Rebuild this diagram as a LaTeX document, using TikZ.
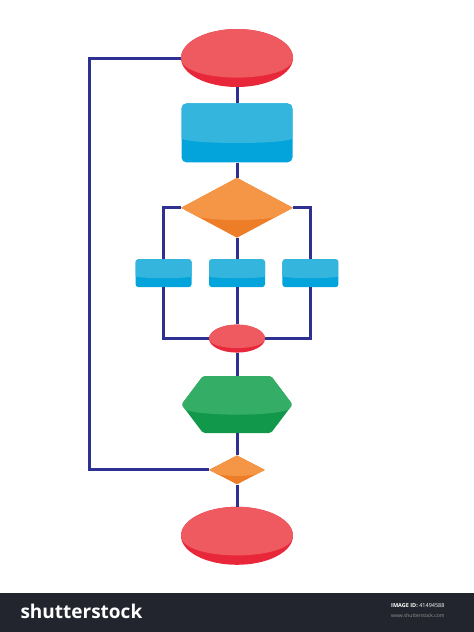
\documentclass[tikz,border=0pt]{standalone}
\usepackage{fontspec}
\setsansfont{Open Sans}
\usepackage{tikz}
\usetikzlibrary{positioning,calc,shapes.geometric,shapes.symbols}
\definecolor{redD}{HTML}{E8283A}
\definecolor{redL}{HTML}{EE5A60}
\definecolor{blueD}{HTML}{03A3DC}
\definecolor{blueL}{HTML}{34B5DE}
\definecolor{orangeD}{HTML}{EE7D28}
\definecolor{orangeL}{HTML}{F59646}
\definecolor{greenD}{HTML}{12984A}
\definecolor{greenL}{HTML}{34AE66}
\definecolor{lineC}{HTML}{2E3192}
\definecolor{barC}{HTML}{22252D}
\tikzset{gloss/.style 2 args={path picture={\fill[#1] (path picture bounding box.north west) -- (path picture bounding box.west)
		.. controls ($(path picture bounding box.west)!#2!(path picture bounding box.south west)$) and ($(path picture bounding box.east)!#2!(path picture bounding box.south east)$)
		.. (path picture bounding box.east) -- (path picture bounding box.north east) -- cycle;}},
	 roval/.style={ellipse,fill=redD,gloss={redL}{.9},inner sep=0pt,minimum width=112pt,minimum height=58pt},
	 sroval/.style={roval,minimum width=56pt,minimum height=28pt},
	 bbox/.style={rectangle,rounded corners=5pt,fill=blueD,gloss={blueL}{.4},inner sep=0pt,minimum width=111pt,minimum height=59pt},
	 sbbox/.style={bbox,rounded corners=3pt,minimum width=56pt,minimum height=28pt},
	 odia/.style={diamond,fill=orangeD,gloss={orangeL}{.55},inner sep=0pt,minimum width=112pt,minimum height=60pt},
	 sodia/.style={odia,minimum width=56pt,minimum height=29pt},
	 ghex/.style={signal,signal to=west and east,signal pointer angle=106,rounded corners=2pt,fill=greenD,gloss={greenL}{.45},inner sep=0pt,minimum width=111pt,minimum height=57pt},
	 flow/.style={draw=lineC,line width=3pt},
	 node distance = 17pt
	 }

\begin{document}
\begin{tikzpicture}[x=1pt,y=1pt] % flowchart with side loop
	\useasboundingbox (0,0) rectangle (474,-632);
	\node[roval] (a1) at (237,-58) {};
	\node[bbox] (a2) [below=16pt of a1] {};
	\node[odia] (a3) [below=15pt of a2] {};
	\node[sbbox] (a5) [below=21pt of a3] {};
	\node[sbbox] (a4) [left=of a5] {};
	\node[sbbox] (a6) [right=of a5] {};
	\node[sroval] (a7) [below=37pt of a5] {};
	\node[ghex] (a8) [below=23pt of a7] {};
	\node[sodia] (a9) [below=22pt of a8] {};
	\node[roval] (a10) [below=22pt of a9] {};
	\draw[flow] (a1) to (a2); \draw[flow] (a2) to (a3); \draw[flow] (a3) to (a5);
	\draw[flow] (a3.west) -| (a4.north); \draw[flow] (a3.east) -| (a6.north);
	\draw[flow] (a4.south) |- (a7.west); \draw[flow] (a6.south) |- (a7.east); \draw[flow] (a5) to (a7);
	\draw[flow] (a7) to (a8); \draw[flow] (a8) to (a9); \draw[flow] (a9) to (a10);
	\draw[flow] (a9.west) -| ([xshift=-91pt]a1.west) -- (a1.west);
	% bottom bar
	\fill[barC] (0,-593) rectangle (474,-632);
	\node[anchor=west,text=white,font=\sffamily\bfseries\fontsize{19}{19}\selectfont] (logo) at (17,-611) {shutterstock};
	\node[anchor=east,text=white,font=\sffamily\fontsize{5.5}{6}\selectfont] (imgid) at (448,-606) {\textbf{IMAGE ID:} 41494588};
	\node[anchor=east,text=gray!80,font=\sffamily\fontsize{5}{6}\selectfont] (site) at (448,-616) {www.shutterstock.com};
\end{tikzpicture}
\end{document}
